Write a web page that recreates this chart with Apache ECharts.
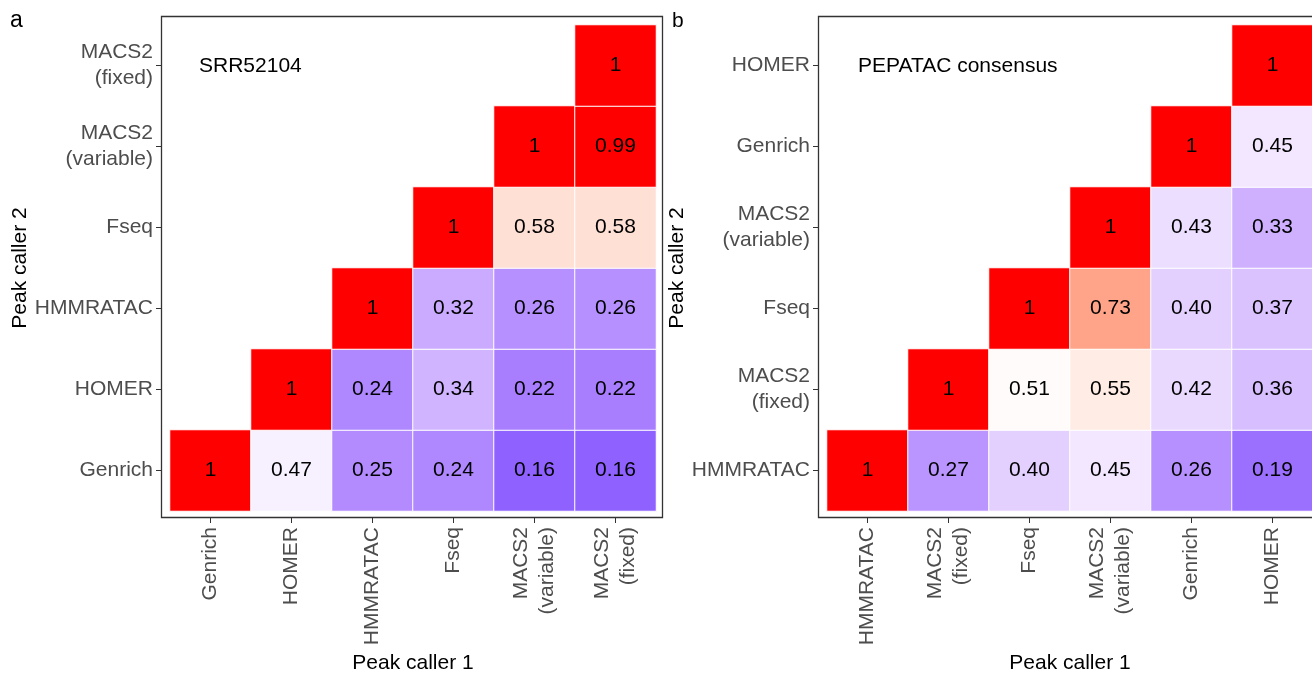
<!DOCTYPE html>
<html>
<head>
<meta charset="utf-8">
<script src="https://cdn.jsdelivr.net/npm/echarts@6/dist/echarts.min.js"></script>
<style>
html,body{margin:0;padding:0;background:#fff;}
#chart{width:1312px;height:673px;}
</style>
</head>
<body>
<div id="chart"></div>
<script>
// ---------- DATA ----------
const callersA = ['Genrich', 'HOMER', 'HMMRATAC', 'Fseq', 'MACS2\n(variable)', 'MACS2\n(fixed)'];
// rows from bottom (y index 0) to top; columns follow callersA; null = empty
const valuesA = [
  [1, 0.47, 0.25, 0.24, 0.16, 0.16],
  [null, 1, 0.24, 0.34, 0.22, 0.22],
  [null, null, 1, 0.32, 0.26, 0.26],
  [null, null, null, 1, 0.58, 0.58],
  [null, null, null, null, 1, 0.99],
  [null, null, null, null, null, 1]
];
const callersB = ['HMMRATAC', 'MACS2\n(fixed)', 'Fseq', 'MACS2\n(variable)', 'Genrich', 'HOMER'];
const valuesB = [
  [1, 0.27, 0.40, 0.45, 0.26, 0.19],
  [null, 1, 0.51, 0.55, 0.42, 0.36],
  [null, null, 1, 0.73, 0.40, 0.37],
  [null, null, null, 1, 0.43, 0.33],
  [null, null, null, null, 1, 0.45],
  [null, null, null, null, null, 1]
];
const titleA = 'SRR52104';
const titleB = 'PEPATAC consensus';
const xTitle = 'Peak caller 1';
const yTitle = 'Peak caller 2';

// ---------- colour ramp (blue - white - red, Lab interpolation, midpoint 0.5) ----------
function lab2hex(L, a, b) {
  let y = (L + 16) / 116, x = a / 500 + y, z = y - b / 200;
  const f = t => (t * t * t > 0.008856 ? t * t * t : (t - 16 / 116) / 7.787);
  x = 0.95047 * f(x); y = 1.0 * f(y); z = 1.08883 * f(z);
  let r = x * 3.2406 + y * -1.5372 + z * -0.4986;
  let g = x * -0.9689 + y * 1.8758 + z * 0.0415;
  let bl = x * 0.0557 + y * -0.2040 + z * 1.0570;
  const gam = c => { c = c > 0.0031308 ? 1.055 * Math.pow(c, 1 / 2.4) - 0.055 : 12.92 * c; return Math.round(Math.max(0, Math.min(1, c)) * 255); };
  return '#' + [gam(r), gam(g), gam(bl)].map(v => v.toString(16).padStart(2, '0')).join('');
}
const labBlue = [32.30, 79.19, -107.86], labWhite = [100, 0, 0], labRed = [53.24, 80.09, 67.20];
const ramp = [];
const N = 100;
for (let i = 0; i <= N; i++) {
  const v = i / N;
  let c0, c1, t;
  if (v <= 0.5) { c0 = labBlue; c1 = labWhite; t = v / 0.5; }
  else { c0 = labWhite; c1 = labRed; t = Math.min(1, (v - 0.5) / 0.49); }
  ramp.push(lab2hex(c0[0] + (c1[0] - c0[0]) * t, c0[1] + (c1[1] - c0[1]) * t, c0[2] + (c1[2] - c0[2]) * t));
}

function toCells(values) {
  const out = [];
  values.forEach((row, yi) => row.forEach((v, xi) => { if (v !== null) out.push([xi, yi, v]); }));
  return out;
}
const fmt = p => (p.value[2] === 1 ? '1' : p.value[2].toFixed(2));

const FONT = 'Liberation Sans, Arial, sans-serif';
const FS = 21;
const tickGray = '#4d4d4d';
const lineCol = '#333333';

function xAxisFor(gi, cats) {
  return {
    type: 'category', gridIndex: gi, data: cats, offset: 7,
    axisLine: { show: false },
    axisTick: { show: true, length: 5, alignWithLabel: true, lineStyle: { color: lineCol, width: 1 } },
    axisLabel: { rotate: 90, color: tickGray, fontSize: FS, fontFamily: FONT, lineHeight: 26, margin: 9 },
    splitLine: { show: false },
    name: xTitle, nameLocation: 'middle', nameGap: 133,
    nameTextStyle: { color: '#000', fontSize: FS, fontFamily: FONT }
  };
}
function yAxisFor(gi, cats) {
  return {
    type: 'category', gridIndex: gi, data: cats, offset: 9,
    axisLine: { show: false },
    axisTick: { show: true, length: 5, alignWithLabel: true, lineStyle: { color: lineCol, width: 1 } },
    axisLabel: { color: tickGray, fontSize: FS, fontFamily: FONT, lineHeight: 26, margin: 8 },
    splitLine: { show: false },
    name: yTitle, nameLocation: 'middle', nameGap: 125,
    nameTextStyle: { color: '#000', fontSize: FS, fontFamily: FONT }
  };
}
function heat(gi, values) {
  return {
    type: 'heatmap', xAxisIndex: gi, yAxisIndex: gi, data: toCells(values),
    label: { show: true, formatter: fmt, color: '#000', fontSize: FS, fontFamily: FONT },
    itemStyle: { borderColor: '#ffffff', borderWidth: 1 },
    emphasis: { disabled: true }
  };
}

const chart = echarts.init(document.getElementById('chart'), null, { renderer: 'canvas' });
chart.setOption({
  backgroundColor: '#ffffff',
  animation: false,
  title: [
    { text: 'a', left: 10, top: 9, padding: 0, textStyle: { fontSize: 23, fontWeight: 'normal', color: '#000', fontFamily: FONT } },
    { text: 'b', left: 672, top: 11, padding: 0, textStyle: { fontSize: 21, fontWeight: 'normal', color: '#000', fontFamily: FONT } },
    { text: titleA, left: 199, top: 56, padding: 0, textStyle: { fontSize: FS, fontWeight: 'normal', color: '#000', fontFamily: FONT } },
    { text: titleB, left: 858, top: 56, padding: 0, textStyle: { fontSize: FS, fontWeight: 'normal', color: '#000', fontFamily: FONT } }
  ],
  grid: [
    { left: 170, top: 25, width: 486, height: 486, containLabel: false, outerBoundsMode: 'none' },
    { left: 827, top: 25, width: 486, height: 486, containLabel: false, outerBoundsMode: 'none' }
  ],
  xAxis: [xAxisFor(0, callersA), xAxisFor(1, callersB)],
  yAxis: [yAxisFor(0, callersA), yAxisFor(1, callersB)],
  visualMap: {
    type: 'continuous', show: false, min: 0, max: 1, seriesIndex: [0, 1], dimension: 2,
    inRange: { color: ramp }
  },
  graphic: [
    { type: 'rect', shape: { x: 161.5, y: 16.5, width: 501, height: 501 }, style: { fill: null, stroke: lineCol, lineWidth: 1.3 }, z: 100 },
    { type: 'rect', shape: { x: 818.5, y: 16.5, width: 501, height: 501 }, style: { fill: null, stroke: lineCol, lineWidth: 1.3 }, z: 100 }
  ],
  series: [heat(0, valuesA), heat(1, valuesB)]
});
</script>
</body>
</html>
